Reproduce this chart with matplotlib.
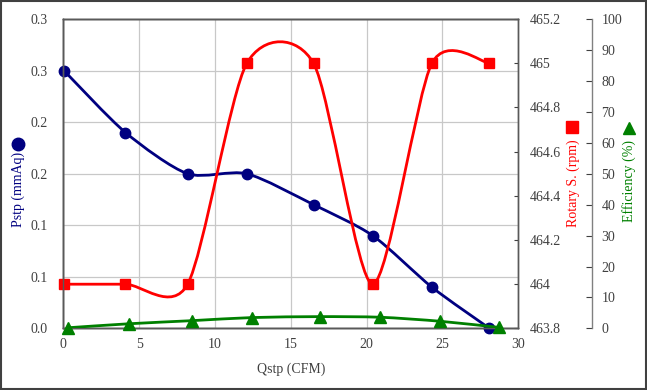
import numpy as np
import matplotlib
matplotlib.use("Agg")
import matplotlib.pyplot as plt
from matplotlib.path import Path
from matplotlib.patches import PathPatch, Rectangle
from matplotlib.lines import Line2D

# data
q_stp = [0.05, 4.1, 8.2, 12.1, 16.5, 20.4, 24.3, 28.1]
p_stp = [0.25, 0.19, 0.15, 0.15, 0.12, 0.09, 0.04, 0.0]
rotary = [464, 464, 464, 465, 465, 464, 465, 465]
q_eff = [0.3, 4.35, 8.5, 12.45, 16.9, 20.9, 24.85, 28.75]
efficiency = [0.2, 1.5, 2.5, 3.5, 3.8, 3.6, 2.3, 0.3]

x_ticks = [0, 5, 10, 15, 20, 25, 30]
p_ticks = [0, 0.05, 0.1, 0.15, 0.2, 0.25, 0.3]
p_tick_labels = ["0.0", "0.1", "0.1", "0.2", "0.2", "0.3", "0.3"]
rpm_ticks = [463.8, 464.0, 464.2, 464.4, 464.6, 464.8, 465.0, 465.2]
eff_ticks = [0, 10, 20, 30, 40, 50, 60, 70, 80, 90, 100]

NAVY = "#000080"
RED = "#ff0000"
GREEN = "#008000"
GREY = "#404040"

plt.rcParams['font.family'] = ['Liberation Serif', 'DejaVu Serif']
plt.rcParams['font.size'] = 10


def smooth_path(xs, ys, tension=0.13):
    """Excel-like smoothed line: cubic Bezier, tangents from the neighbours."""
    pts = np.column_stack([xs, ys]).astype(float)
    n = len(pts)
    verts = [pts[0]]
    codes = [Path.MOVETO]
    for i in range(n - 1):
        p_prev = pts[i - 1] if i > 0 else pts[i]
        p_next = pts[i + 2] if i + 2 < n else pts[i + 1]
        c1 = pts[i] + (pts[i + 1] - p_prev) * tension
        c2 = pts[i + 1] - (p_next - pts[i]) * tension
        verts += [c1, c2, pts[i + 1]]
        codes += [Path.CURVE4] * 3
    return Path(verts, codes)


fig = plt.figure(figsize=(6.47, 3.9), dpi=100)
ax = fig.add_axes([0.0978, 0.158, 0.7033, 0.793])
ax2 = ax.twinx()
ax3 = ax.twinx()

# Pstp
ax.add_patch(PathPatch(smooth_path(q_stp, p_stp), fill=False, edgecolor=NAVY, lw=2.0, zorder=3))
ax.plot(q_stp, p_stp, 'o', color=NAVY, ms=7.5, zorder=4, clip_on=False)
ax.set_xlim(0, 30)
ax.set_ylim(0, 0.3)
ax.set_xticks(x_ticks)
ax.set_yticks(p_ticks)
ax.set_yticklabels(p_tick_labels)
ax.grid(True, color="#c8c8c8", lw=0.9)
ax.set_axisbelow(True)
ax.tick_params(axis='both', length=0, colors=GREY, labelsize=10)
ax.tick_params(axis='y', pad=11)
ax.tick_params(axis='x', pad=7)
ax.set_xlabel("Qstp (CFM)", color=GREY, fontsize=10, labelpad=8)

# Rotary speed
ax2.add_patch(PathPatch(smooth_path(q_stp, rotary), fill=False, edgecolor=RED, lw=2.0, zorder=3))
ax2.plot(q_stp, rotary, 's', color=RED, ms=7.5, zorder=4, clip_on=False)
ax2.set_ylim(463.8, 465.2)
ax2.set_yticks(rpm_ticks)
ax2.set_yticklabels([f"{v:g}" for v in np.round(rpm_ticks, 1)])
ax2.tick_params(axis='y', direction='in', length=3, colors=GREY, labelsize=10, pad=8)

# Efficiency
ax3.spines['right'].set_position(('axes', 1.1613))
ax3.add_patch(PathPatch(smooth_path(q_eff, efficiency), fill=False, edgecolor=GREEN, lw=2.0, zorder=3))
ax3.plot(q_eff, efficiency, '^', color=GREEN, ms=8, zorder=4, clip_on=False)
ax3.set_ylim(0, 100)
ax3.set_yticks(eff_ticks)
ax3.tick_params(axis='y', direction='in', length=4, colors=GREY, labelsize=10, pad=7)

for a in (ax, ax2, ax3):
    for s in a.spines.values():
        s.set_color("#595959")
        s.set_linewidth(1.0)
ax3.spines['right'].set_color("#808080")
for a in (ax2, ax3):
    a.patch.set_visible(False)

# axis titles with their series symbols
fig.text(18 / 647, 1 - 189 / 390, "Pstp (mmAq)", rotation=90, color=NAVY,
         ha='center', va='center', fontsize=10)
fig.add_artist(Line2D([18 / 647], [1 - 144 / 390], marker='o', color=NAVY, ms=9,
                      transform=fig.transFigure))
fig.text(573 / 647, 1 - 183 / 390, "Rotary S. (rpm)", rotation=90, color=RED,
         ha='center', va='center', fontsize=10)
fig.add_artist(Line2D([572 / 647], [1 - 127 / 390], marker='s', color=RED, ms=8.5,
                      transform=fig.transFigure))
fig.text(629 / 647, 1 - 181 / 390, "Efficiency (%)", rotation=90, color=GREEN,
         ha='center', va='center', fontsize=10)
fig.add_artist(Line2D([629 / 647], [1 - 128 / 390], marker='^', color=GREEN, ms=9,
                      transform=fig.transFigure))

# chart border
fig.patches.append(Rectangle((0.001, 0.002), 0.997, 0.995, transform=fig.transFigure,
                             fill=False, edgecolor=GREY, lw=1.5))

fig.savefig("out.png", dpi=100)
